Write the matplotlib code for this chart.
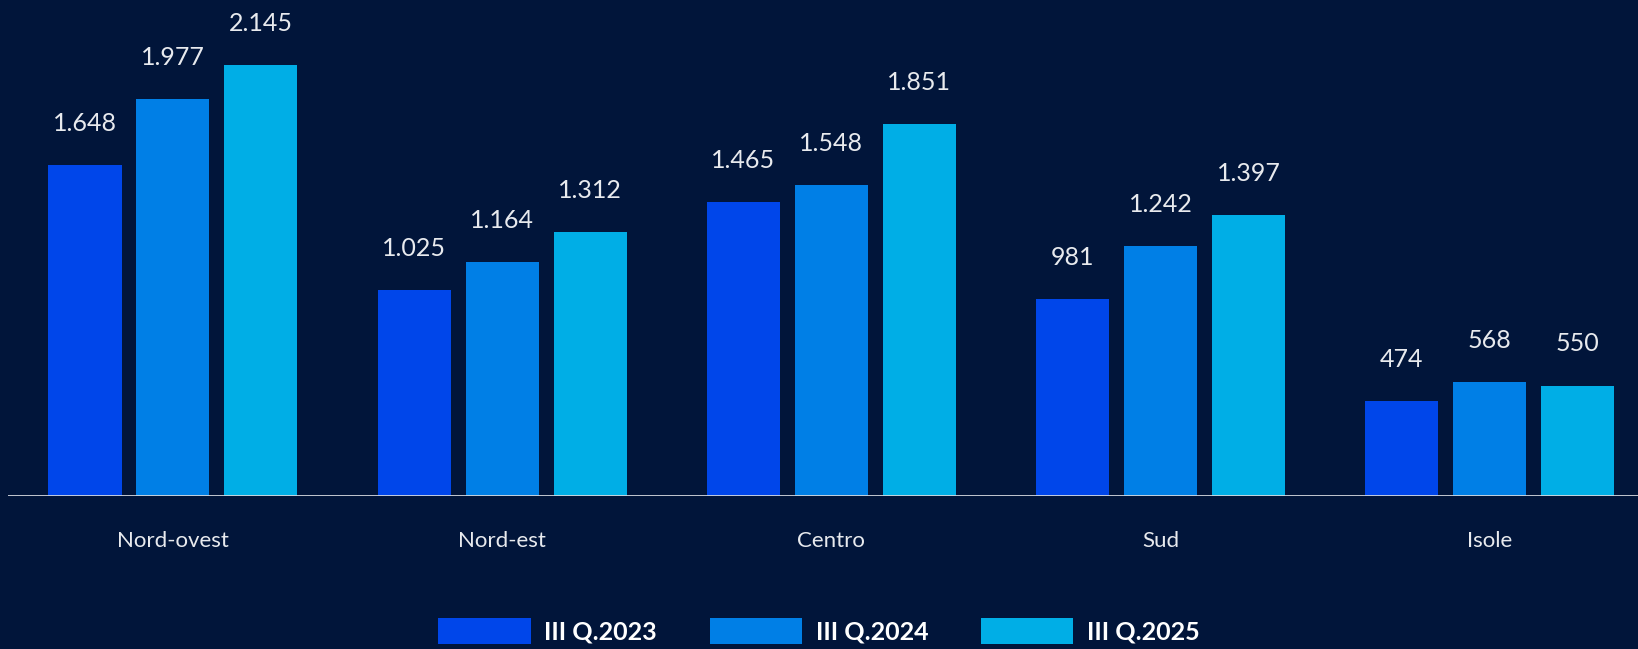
import matplotlib
matplotlib.use("Agg")
import matplotlib.pyplot as plt
from matplotlib.patches import Patch
import numpy as np

regions = ["Nord-ovest", "Nord-est", "Centro", "Sud", "Isole"]
series = ["III Q.2023", "III Q.2024", "III Q.2025"]
q2023 = [1648, 1025, 1465, 981, 474]
q2024 = [1977, 1164, 1548, 1242, 568]
q2025 = [2145, 1312, 1851, 1397, 550]

bg = "#01153a"
colors = ["#0046ea", "#007fe6", "#00aee6"]

plt.rcParams['font.family'] = ['Lato', 'DejaVu Sans']

fig = plt.figure(figsize=(16.38, 6.49), dpi=100, facecolor=bg)
ax = fig.add_axes([8 / 1638, 153 / 649, 1630 / 1638, 496 / 649])
ax.set_facecolor(bg)

x = np.arange(len(regions))
w = 0.222
off = 0.267

def fmt(v):
    # italian thousands separator
    return f"{v:,}".replace(",", ".")

for i, (vals, c) in enumerate(zip([q2023, q2024, q2025], colors)):
    bars = ax.bar(x + (i - 1) * off, vals, width=w, color=c, zorder=2)
    for b, v in zip(bars, vals):
        ax.annotate(fmt(v), (b.get_x() + b.get_width() / 2, v),
                    xytext=(0, 30), textcoords="offset points",
                    ha="center", va="center", color="#e8eaee", fontsize=18)

ax.axhline(0, color="#d5d8de", lw=2, zorder=3)
ax.set_xlim(-0.501, 4.45)
ax.set_ylim(0, 2469)
ax.set_yticks([])
ax.set_xticks(x)
ax.set_xticklabels(regions, color="#e8eaee", fontsize=16)
ax.tick_params(axis="x", length=0, pad=25)
for s in ax.spines.values():
    s.set_visible(False)

handles = [Patch(facecolor=c, label=l) for c, l in zip(colors, series)]
leg = fig.legend(handles=handles, loc="lower center", ncol=3,
                 bbox_to_anchor=(0.5, -0.016), frameon=False,
                 handlelength=3.7, handleheight=1.25, handletextpad=0.55,
                 columnspacing=2.1, borderpad=0.1,
                 prop={"size": 18, "weight": "bold"})
for t in leg.get_texts():
    t.set_color("#ffffff")

fig.savefig("out.png", dpi=100, facecolor=bg)
